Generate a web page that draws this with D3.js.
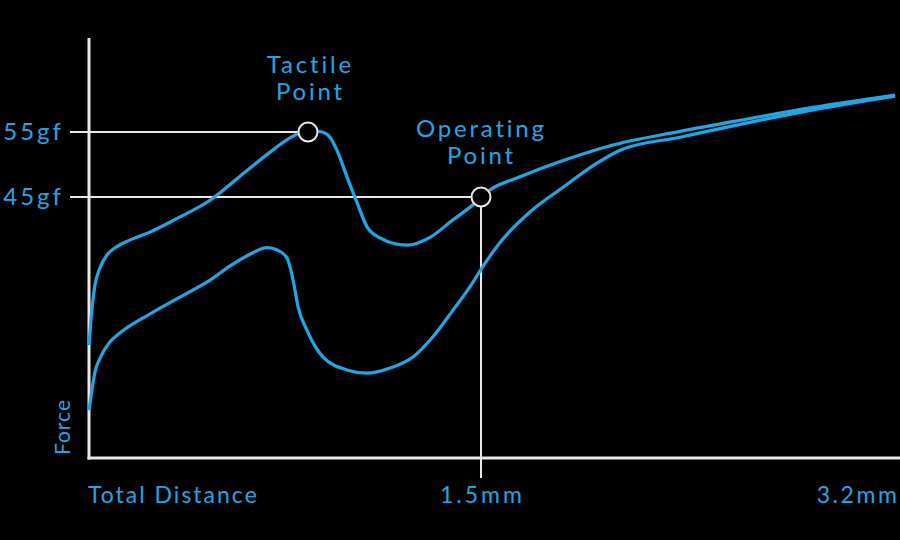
<!DOCTYPE html>
<html><head><meta charset="utf-8">
<script src="https://cdn.jsdelivr.net/npm/d3@7"></script>
<style>html,body{margin:0;padding:0;background:#000;}svg{display:block;}</style>
</head><body>
<script>
// Distance (mm) and force (gf)
const pressDistance = [0,0.008,0.023,0.042,0.069,0.10,0.157,0.233,0.337,0.463,0.578,0.693,0.769,0.838,0.892,0.922,0.953,0.987,1.026,1.064,1.114,1.171,1.217,1.305,1.393,1.469,1.5,1.537,1.66,1.837,2.042,2.317,2.593,2.864,3.2];
const pressForce    = [22.2,26.4,31.5,34.1,36.1,37.2,38.4,39.6,41.7,44.5,48.2,51.9,54.1,55.2,55.0,54.2,51.8,48.1,44.1,40.4,38.7,37.8,37.6,38.8,41.5,43.8,45,46.1,48.1,50.6,53.0,55.1,57.0,58.8,60.7];
const releaseDistance = [0,0.008,0.023,0.042,0.08,0.119,0.233,0.348,0.463,0.54,0.616,0.681,0.723,0.758,0.781,0.8,0.834,0.895,0.987,1.064,1.152,1.24,1.316,1.393,1.458,1.504,1.578,1.701,1.837,1.976,2.071,2.317,2.593,2.864,3.2];
const releaseForce    = [12.2,14.5,18.1,20.2,22.7,24.1,27.0,29.6,32.2,34.4,36.2,37.2,36.8,35.6,32.2,28.1,24.5,20.4,18.4,17.9,18.7,20.4,23.5,27.6,31.2,34.1,38.0,42.7,46.5,50.2,52.2,54.2,56.4,58.4,60.5];
const xTickValues = [1.5, 3.2];
const xTickLabels = ["1.5mm", "3.2mm"];
const yTickValues = [55, 45];
const yTickLabels = ["55gf", "45gf"];
const points = [
  {name: ["Tactile", "Point"], d: 0.838, f: 55},
  {name: ["Operating", "Point"], d: 1.5, f: 45}
];
const xTitle = "Total Distance";
const yTitle = "Force";

const W = 900, H = 540;
const blue = "#19a9e8", white = "#e8e8e8";
const font = "Lato, 'Open Sans', sans-serif";

const svg = d3.select("body").append("svg").attr("width", W).attr("height", H)
  .style("background", "#000");

const x = d3.scaleLinear().domain([0, 1.5, 3.2]).range([89, 481, 895]);
const y = d3.scaleLinear().domain([45, 55]).range([197, 132]);
const axisX0 = 89, axisYBottom = 458, axisYTop = 38, axisXEnd = 900;

// guide lines
points.forEach((p, i) => {
  svg.append("line").attr("x1", 70).attr("x2", x(p.d) - 10)
    .attr("y1", y(p.f)).attr("y2", y(p.f))
    .attr("stroke", white).attr("stroke-width", 2);
});
svg.append("line").attr("x1", x(1.5)).attr("x2", x(1.5))
  .attr("y1", y(45) + 10).attr("y2", 478)
  .attr("stroke", white).attr("stroke-width", 2);

// axes
svg.append("line").attr("x1", axisX0).attr("x2", axisX0).attr("y1", axisYTop).attr("y2", axisYBottom + 1.5)
  .attr("stroke", white).attr("stroke-width", 3);
svg.append("line").attr("x1", axisX0 - 1.5).attr("x2", axisXEnd).attr("y1", axisYBottom).attr("y2", axisYBottom)
  .attr("stroke", white).attr("stroke-width", 3);

// curves
const line = d3.line().x(d => x(d[0])).y(d => y(d[1])).curve(d3.curveMonotoneX);
svg.append("path").datum(releaseDistance.map((d, i) => [d, releaseForce[i]]))
  .attr("d", line).attr("fill", "none").attr("stroke", blue).attr("stroke-width", 3.2);
svg.append("path").datum(pressDistance.map((d, i) => [d, pressForce[i]]))
  .attr("d", line).attr("fill", "none").attr("stroke", blue).attr("stroke-width", 3.2);

// point markers
points.forEach(p => {
  svg.append("circle").attr("cx", x(p.d)).attr("cy", y(p.f)).attr("r", 9.5)
    .attr("fill", "#000").attr("stroke", white).attr("stroke-width", 2);
});

function txt(xp, yp, t, size, ls, anchor) {
  const el = svg.append("text").attr("x", xp).attr("y", yp)
    .attr("text-anchor", anchor).attr("fill", blue)
    .style("font-family", font).style("font-size", size + "px")
    .style("letter-spacing", ls + "px").text(t);
  if (anchor === "middle") el.attr("dx", ls / 2);
  if (anchor === "end") el.attr("dx", ls);
  return el;
}

// point labels
const lbl = [{cx: 309, b: 73}, {cx: 480, b: 137}];
points.forEach((p, i) => {
  p.name.forEach((t, j) => txt(lbl[i].cx, lbl[i].b + j * 27, t, 24, 2.8, "middle"));
});

// y tick labels
yTickValues.forEach((v, i) => txt(61, y(v) + 8, yTickLabels[i], 24, 3, "end"));

// x tick labels
xTickValues.forEach((v, i) => {
  const last = i === xTickValues.length - 1;
  txt(last ? 897 : x(v), 503, xTickLabels[i], 23, last ? 2.6 : 3, last ? "end" : "middle");
});

// titles
txt(88, 503, xTitle, 23, 2, "start");
svg.append("text").attr("transform", "translate(70,455) rotate(-90)")
  .attr("fill", blue).style("font-family", font).style("font-size", "21px")
  .style("letter-spacing", "1px").text(yTitle);
</script>
</body></html>
